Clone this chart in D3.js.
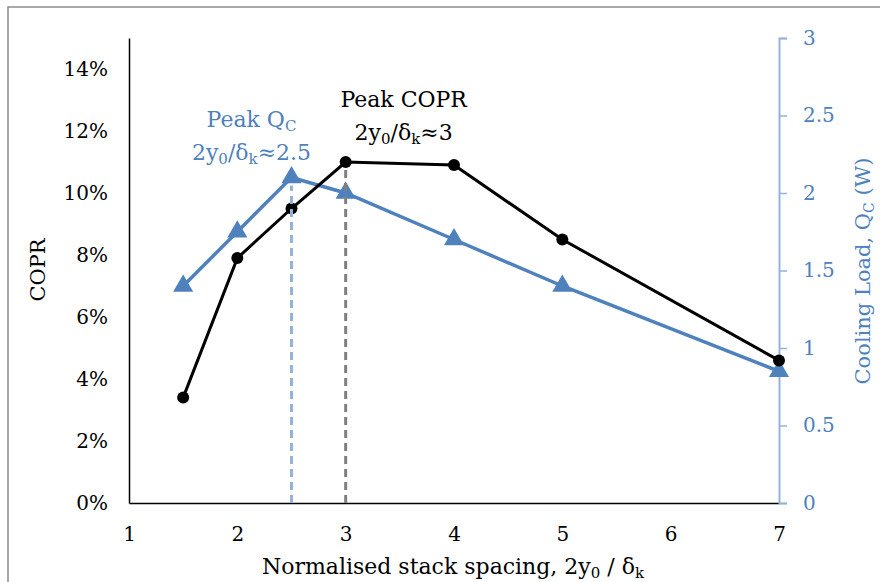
<!DOCTYPE html>
<html>
<head>
<meta charset="utf-8">
<script src="https://cdn.jsdelivr.net/npm/d3@7"></script>
<style>
  body { margin: 0; background: #fff; }
  svg text { font-family: "DejaVu Serif", "Liberation Serif", serif; }
</style>
</head>
<body>
<script>
// data
var spacing = [1.5, 2, 2.5, 3, 4, 5, 7];
var copr = [0.034, 0.079, 0.095, 0.110, 0.109, 0.085, 0.046];
var qc = [1.40, 1.75, 2.10, 2.00, 1.70, 1.40, 0.85];
var xTicks = [1, 2, 3, 4, 5, 6, 7];
var leftTicks = [0, 0.02, 0.04, 0.06, 0.08, 0.10, 0.12, 0.14];
var rightTicks = [0, 0.5, 1, 1.5, 2, 2.5, 3];
var peakCopr = {x: 3, y: 0.110};
var peakQc = {x: 2.5, y: 2.10};

var W = 880, H = 582;
var blue = "#4F81BD", lightBlue = "#95B3D7";
var fs = 21, sub = 14;

var svg = d3.select("body").append("svg")
  .attr("width", W).attr("height", H);

// frame
svg.append("rect")
  .attr("x", 8).attr("y", 7)
  .attr("width", W + 10).attr("height", H + 10)
  .attr("fill", "none").attr("stroke", "#8c8c8c").attr("stroke-width", 1.5);

var x = d3.scaleLinear().domain([1, 7]).range([129, 779]);
var yL = d3.scaleLinear().domain([0, 0.15]).range([503, 38]);
var yR = d3.scaleLinear().domain([0, 3]).range([503, 38]);

// left axis
var gL = svg.append("g").attr("transform", "translate(129,0)")
  .call(d3.axisLeft(yL).tickValues(leftTicks).tickSize(0).tickPadding(21)
    .tickFormat(d3.format(".0%")));
gL.select(".domain").attr("stroke", "#000").attr("stroke-width", 1.5);
gL.selectAll("text").attr("font-size", 20).attr("fill", "#000")
  .attr("font-family", "DejaVu Serif");

// bottom axis
var gB = svg.append("g").attr("transform", "translate(0,503)")
  .call(d3.axisBottom(x).tickValues(xTicks).tickSize(0).tickPadding(24)
    .tickFormat(d3.format("d")));
gB.select(".domain").attr("stroke", "#000").attr("stroke-width", 1.5);
gB.selectAll("text").attr("font-size", 20).attr("fill", "#000")
  .attr("font-family", "DejaVu Serif");

// right axis
var gR = svg.append("g").attr("transform", "translate(779,0)")
  .call(d3.axisRight(yR).tickValues(rightTicks).tickSize(8).tickSizeOuter(8).tickPadding(16)
    .tickFormat(d3.format("")));
gR.select(".domain").attr("stroke", lightBlue).attr("stroke-width", 2);
gR.selectAll(".tick line").attr("stroke", lightBlue).attr("stroke-width", 1.5);
gR.selectAll("text").attr("font-size", 20).attr("fill", blue)
  .attr("font-family", "DejaVu Serif");

// axis titles
svg.append("text")
  .attr("transform", "translate(45,270) rotate(-90)")
  .attr("text-anchor", "middle").attr("font-size", fs).attr("fill", "#000")
  .text("COPR");

var rt = svg.append("text")
  .attr("transform", "translate(870,271) rotate(-90)")
  .attr("text-anchor", "middle").attr("font-size", fs).attr("fill", blue);
rt.append("tspan").text("Cooling Load, Q");
rt.append("tspan").attr("font-size", sub).attr("dy", 4).text("C");
rt.append("tspan").attr("dy", -4).text(" (W)");

var bt = svg.append("text")
  .attr("x", 453).attr("y", 574)
  .attr("text-anchor", "middle").attr("font-size", 22).attr("fill", "#000");
bt.append("tspan").text("Normalised stack spacing, 2y");
bt.append("tspan").attr("font-size", 15).attr("dy", 4).text("0");
bt.append("tspan").attr("dy", -4).text(" / δ");
bt.append("tspan").attr("font-size", 15).attr("dy", 4).text("k");

// series lines
var pts = spacing.map(function(s, i) { return {x: s, c: copr[i], q: qc[i]}; });

svg.append("path").datum(pts)
  .attr("fill", "none").attr("stroke", blue).attr("stroke-width", 3.5)
  .attr("d", d3.line().x(function(d) { return x(d.x); }).y(function(d) { return yR(d.q); }));

svg.append("path").datum(pts)
  .attr("fill", "none").attr("stroke", "#000").attr("stroke-width", 3)
  .attr("d", d3.line().x(function(d) { return x(d.x); }).y(function(d) { return yL(d.c); }));

svg.selectAll(".tri").data(pts).enter().append("path")
  .attr("class", "tri")
  .attr("transform", function(d) { return "translate(" + x(d.x) + "," + yR(d.q) + ")"; })
  .attr("d", d3.symbol().type(d3.symbolTriangle).size(175))
  .attr("fill", blue);

svg.selectAll(".dot").data(pts).enter().append("circle")
  .attr("class", "dot")
  .attr("cx", function(d) { return x(d.x); })
  .attr("cy", function(d) { return yL(d.c); })
  .attr("r", 6).attr("fill", "#000");

// peak markers
svg.append("line")
  .attr("x1", x(peakQc.x)).attr("x2", x(peakQc.x))
  .attr("y1", 503).attr("y2", yR(peakQc.y) + 8)
  .attr("stroke", lightBlue).attr("stroke-width", 3).attr("stroke-dasharray", "8,5");
svg.append("line")
  .attr("x1", x(peakCopr.x)).attr("x2", x(peakCopr.x))
  .attr("y1", 503).attr("y2", yL(peakCopr.y) + 6)
  .attr("stroke", "#808080").attr("stroke-width", 3).attr("stroke-dasharray", "8,5");

// annotations
function label(cx, y1, title, s, val, color) {
  var t = svg.append("text").attr("x", cx).attr("y", y1)
    .attr("text-anchor", "middle").attr("font-size", 22).attr("fill", color);
  t.append("tspan").text(title);
  if (s) t.append("tspan").attr("font-size", 15).attr("dy", 4).text(s);
  var t2 = svg.append("text").attr("x", cx).attr("y", y1 + 33)
    .attr("text-anchor", "middle").attr("font-size", 22).attr("fill", color);
  t2.append("tspan").text("2y");
  t2.append("tspan").attr("font-size", 15).attr("dy", 4).text("0");
  t2.append("tspan").attr("dy", -4).text("/δ");
  t2.append("tspan").attr("font-size", 15).attr("dy", 4).text("k");
  t2.append("tspan").attr("dy", -4).text("≈" + val);
}
label(x(peakCopr.x) + 58, 107, "Peak COPR", null, "3", "#000");
label(x(peakQc.x) - 40, 127, "Peak Q", "C", "2.5", blue);
</script>
</body>
</html>
